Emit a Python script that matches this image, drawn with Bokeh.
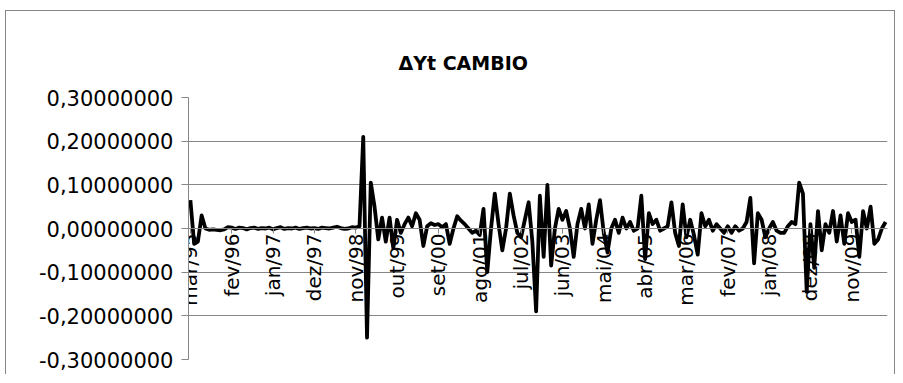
import math
from bokeh.plotting import figure
from bokeh.models import LinearAxis, FixedTicker, Range1d
from bokeh.embed import file_html
from bokeh.resources import INLINE

# ---- data ----
values = [
    # mar/95 .. nov/98
    0.065, -0.035, -0.030, 0.030, 0.000, -0.003, -0.002, -0.003, -0.004, -0.002,
    0.003, 0.002, -0.001, 0.002, 0.001, -0.002, 0.001, 0.002, -0.001, 0.001,
    0.000, 0.002, -0.002, 0.001, 0.003, -0.001, 0.001, 0.000, 0.002, -0.001,
    0.001, 0.002, 0.000, 0.001, -0.001, 0.002, 0.001, 0.000, 0.002, 0.004,
    0.001, -0.001, 0.000, 0.003, 0.002,
    # dez/98 ..
    0.005, 0.210, -0.250, 0.105, 0.050, -0.025, 0.025, -0.030, 0.025, -0.045,
    0.020, -0.010, 0.010, 0.025, 0.005, 0.035, 0.020, -0.040, 0.005, 0.012,
    0.008, 0.010, 0.003, 0.010, -0.035, 0.000, 0.028, 0.018, 0.010, 0.000,
    -0.010, -0.005, -0.015, 0.045, -0.100, 0.000, 0.080, 0.010, -0.050, 0.000,
    0.080, 0.030, -0.010, -0.020, 0.020, 0.060, -0.030, -0.190, 0.075, -0.065,
    0.100, -0.085, 0.000, 0.045, 0.020, 0.040, 0.000, -0.065, 0.010, 0.045,
    0.000, 0.055, -0.035, 0.020, 0.065, -0.010, -0.055, 0.000, 0.020, -0.010,
    0.025, 0.000, 0.015, -0.005, 0.000, 0.075, -0.070, 0.035, 0.010, 0.020,
    -0.005, 0.000, 0.005, 0.060, -0.010, -0.040, 0.055, -0.020, 0.020, -0.015,
    -0.060, 0.035, 0.005, 0.020, -0.005, 0.010, 0.000, -0.010, 0.005, -0.010,
    0.005, -0.005, 0.000, 0.015, 0.070, -0.080, 0.035, 0.020, -0.020, 0.000,
    0.015, -0.005, -0.010, -0.010, 0.005, 0.015, 0.010, 0.105, 0.080, -0.145,
    0.010, -0.090, 0.040, -0.050, 0.010, -0.010, 0.040, -0.030, 0.030, -0.035,
    0.035, 0.015, 0.020, -0.065, 0.040, 0.000, 0.050, -0.035, -0.025, 0.000,
    0.015,
]

x_tick_labels = ["mar/95", "fev/96", "jan/97", "dez/97", "nov/98", "out/99",
                 "set/00", "ago/01", "jul/02", "jun/03", "mai/04", "abr/05",
                 "mar/06", "fev/07", "jan/08", "dez/08", "nov/09"]
label_step = 11

y_ticks = [-0.3, -0.2, -0.1, 0, 0.1, 0.2, 0.3]
y_tick_labels = ["-0,30000000", "-0,20000000", "-0,10000000", "0,00000000",
                 "0,10000000", "0,20000000", "0,30000000"]

title_text = "ΔYt CAMBIO"

# ---- figure ----
n = len(values)
xs = list(range(n))
FONT = "DejaVu Sans"
GRID = "#868686"

p = figure(width=890, height=364, output_backend="svg", toolbar_location=None,
           x_axis_location=None,
           x_range=Range1d(-0.5, n - 0.5), y_range=Range1d(-0.3, 0.3),
           min_border_left=182, min_border_right=9, min_border_top=86,
           min_border_bottom=16)
p.styles = {"border": "1px solid #868686", "border-bottom": "none",
            "margin-left": "5px", "margin-top": "10px"}
p.outline_line_color = None
p.background_fill_color = "white"
p.border_fill_color = "white"

p.title.text = title_text
p.title.align = "left"
p.title.offset = 210
p.title.text_font = FONT
p.title.text_font_style = "bold"
p.title.text_font_size = "19px"
p.title.text_color = "black"
p.title.standoff = 48

p.xgrid.visible = False
p.ygrid.ticker = FixedTicker(ticks=y_ticks)
p.ygrid.grid_line_color = GRID
p.ygrid.grid_line_width = 1

yax = p.yaxis[0]
yax.ticker = FixedTicker(ticks=y_ticks)
yax.major_label_overrides = {t: lab for t, lab in zip(y_ticks, y_tick_labels)}
yax.major_label_text_font = FONT
yax.major_label_text_font_size = "21px"
yax.major_label_text_color = "black"
yax.axis_line_color = GRID
yax.major_tick_line_color = GRID
yax.major_tick_out = 7
yax.major_tick_in = 0
yax.minor_tick_line_color = None
yax.major_label_standoff = 8

x_ticks = [i * label_step for i in range(len(x_tick_labels))]
xax = LinearAxis(ticker=FixedTicker(ticks=x_ticks),
                 major_label_overrides={t: lab for t, lab in zip(x_ticks, x_tick_labels)})
xax.fixed_location = 0
xax.major_label_orientation = math.pi / 2
xax.major_label_text_font = FONT
xax.major_label_text_font_size = "20px"
xax.major_label_text_color = "black"
xax.axis_line_color = GRID
xax.major_tick_line_color = GRID
xax.major_tick_out = 5
xax.major_tick_in = 0
xax.minor_tick_line_color = None
xax.major_label_standoff = 0
p.add_layout(xax, "below")

p.line(xs, values, line_color="black", line_width=3.8, line_join="round")

open("out.html", "w").write(file_html(p, INLINE))
